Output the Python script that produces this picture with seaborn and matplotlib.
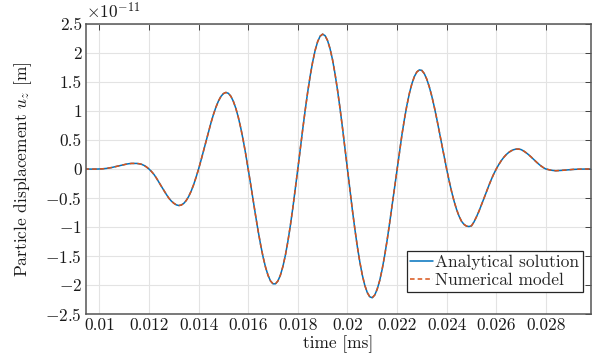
import numpy as np
import pandas as pd
import matplotlib
matplotlib.use("Agg")
import matplotlib.pyplot as plt
from matplotlib.ticker import FuncFormatter
import seaborn as sns

# sample times [ms]
time_ms = np.round(np.arange(0.0094, 0.02981, 0.0001), 4)

# particle displacement in units of 1e-11 m
displacement = [
    0.000, -0.001, -0.001, -0.002, -0.002, -0.001, 0.000, 0.002, 0.006, 0.011,
    0.018, 0.026, 0.036, 0.046, 0.057, 0.066, 0.075, 0.085, 0.092, 0.096,
    0.096, 0.096, 0.091, 0.081, 0.062, 0.035, 0.000, -0.043, -0.093, -0.157,
    -0.229, -0.299, -0.369, -0.438, -0.502, -0.552, -0.590, -0.618, -0.630, -0.622,
    -0.594, -0.544, -0.474, -0.382, -0.271, -0.140, 0.000, 0.154, 0.316, 0.480,
    0.643, 0.798, 0.942, 1.067, 1.172, 1.251, 1.300, 1.320, 1.305, 1.255,
    1.168, 1.048, 0.894, 0.708, 0.494, 0.256, 0.000, -0.267, -0.540, -0.809,
    -1.068, -1.305, -1.518, -1.695, -1.834, -1.931, -1.980, -1.980, -1.929, -1.828,
    -1.679, -1.484, -1.248, -0.973, -0.669, -0.341, 0.000, 0.347, 0.692, 1.022,
    1.332, 1.609, 1.849, 2.048, 2.197, 2.290, 2.325, 2.299, 2.214, 2.074,
    1.883, 1.642, 1.363, 1.051, 0.714, 0.360, 0.000, -0.358, -0.707, -1.036,
    -1.338, -1.603, -1.828, -2.005, -2.130, -2.203, -2.220, -2.174, -2.073, -1.925,
    -1.731, -1.496, -1.230, -0.937, -0.629, -0.313, 0.000, 0.305, 0.596, 0.864,
    1.103, 1.307, 1.472, 1.595, 1.674, 1.709, 1.700, 1.644, 1.548, 1.418,
    1.259, 1.074, 0.871, 0.656, 0.434, 0.213, 0.000, -0.202, -0.389, -0.555,
    -0.697, -0.813, -0.901, -0.955, -0.985, -0.992, -0.980, -0.915, -0.827, -0.731,
    -0.623, -0.511, -0.397, -0.287, -0.182, -0.085, 0.000, 0.075, 0.142, 0.200,
    0.247, 0.285, 0.313, 0.333, 0.343, 0.344, 0.335, 0.312, 0.282, 0.248,
    0.210, 0.168, 0.128, 0.089, 0.054, 0.024, 0.000, -0.010, -0.020, -0.026,
    -0.030, -0.028, -0.025, -0.022, -0.018, -0.014, -0.010, -0.007, -0.005, -0.003,
    -0.002, -0.001, 0.000, 0.000, 0.000,
]
# the numerical model lies on top of the analytical solution
numerical = list(displacement)

x_ticks = [0.01, 0.012, 0.014, 0.016, 0.018, 0.02, 0.022, 0.024, 0.026, 0.028]
y_ticks = [-2.5, -2, -1.5, -1, -0.5, 0, 0.5, 1, 1.5, 2, 2.5]

sns.set_theme(style="whitegrid")
plt.rcParams["font.family"] = "serif"
plt.rcParams["font.serif"] = ["cmr10"]
plt.rcParams["mathtext.fontset"] = "cm"
plt.rcParams["axes.formatter.use_mathtext"] = True

df = pd.DataFrame({
    "time": np.concatenate([time_ms, time_ms]),
    "u": displacement + numerical,
    "series": ["Analytical solution"] * len(time_ms) + ["Numerical model"] * len(time_ms),
})

fig = plt.figure(figsize=(6, 3.6), dpi=100)
ax = fig.add_axes([0.1433, 0.1278, 0.8417, 0.8055])

sns.lineplot(data=df, x="time", y="u", hue="series", style="series",
             palette=["#0072BD", "#D95319"], dashes=[(None, None), (3, 2)],
             linewidth=1.1, ax=ax, estimator=None, sort=False)

ax.set_xlim(0.00946, 0.02982)
ax.set_ylim(-2.5, 2.5)
ax.set_xticks(x_ticks)
ax.set_yticks(y_ticks)

def fmt(v, pos):
    s = "%g" % v
    return "$" + s + "$" if s.startswith("-") else s

ax.xaxis.set_major_formatter(FuncFormatter(fmt))
ax.yaxis.set_major_formatter(FuncFormatter(fmt))

ax.grid(True, color="#e3e3e3", linewidth=0.8)
for sp in ax.spines.values():
    sp.set_color("#555555")
    sp.set_linewidth(1.1)
ax.tick_params(direction="in", length=4, width=0.7, color="#404040",
               top=True, right=True, labelsize=12.5, pad=3, labelcolor="#1a1a1a")

ax.set_xlabel("time [ms]", fontsize=12.5, labelpad=1, color="#1a1a1a")
ax.set_ylabel("Particle displacement $u_z$ [m]", fontsize=12.5, labelpad=8, color="#1a1a1a")
ax.text(0.0, 1.008, r"$\times10^{-11}$", transform=ax.transAxes,
        fontsize=12.5, ha="left", va="bottom", color="#1a1a1a")

leg = ax.legend(loc="lower right", bbox_to_anchor=(0.984, 0.076), fontsize=12.5,
                frameon=True, fancybox=False, edgecolor="#262626", framealpha=1,
                borderpad=0.2, handlelength=1.3, handletextpad=0.15,
                labelspacing=0.2, borderaxespad=0.0)
leg.get_frame().set_linewidth(0.9)
leg.set_title(None)

fig.savefig("out.png", dpi=100)
